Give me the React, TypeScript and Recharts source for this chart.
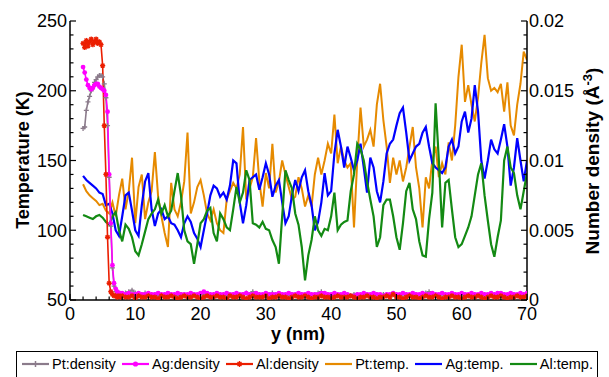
import { LineChart, Line, XAxis, YAxis } from "recharts";

const FONT = '"Liberation Sans", Arial, sans-serif';

// y positions (nm) of the temperature profiles
const tempPos = [
  2, 2.5, 3, 3.5, 4, 4.5, 5, 5.5, 6, 6.5, 7, 7.5, 8, 8.5, 9, 9.5, 10, 10.5, 11, 11.5,
  12, 12.5, 13, 13.5, 14, 14.5, 15, 15.5, 16, 16.5, 17, 17.5, 18, 18.5, 19, 19.5, 20, 20.5, 21, 21.5,
  22, 22.5, 23, 23.5, 24, 24.5, 25, 25.5, 26, 26.5, 27, 27.5, 28, 28.5, 29, 29.5, 30, 30.5, 31, 31.5,
  32, 32.5, 33, 33.5, 34, 34.5, 35, 35.5, 36, 36.5, 37, 37.5, 38, 38.5, 39, 39.5, 40, 40.5, 41, 41.5,
  42, 42.5, 43, 43.5, 44, 44.5, 45, 45.5, 46, 46.5, 47, 47.5, 48, 48.5, 49, 49.5, 50, 50.5, 51, 51.5,
  52, 52.5, 53, 53.5, 54, 54.5, 55, 55.5, 56, 56.5, 57, 57.5, 58, 58.5, 59, 59.5, 60, 60.5, 61, 61.5,
  62, 62.5, 63, 63.5, 64, 64.5, 65, 65.5, 66, 66.5, 67, 67.5, 68, 68.5, 69, 69.5, 70,
];

const ptTemp = [
  133, 128, 125, 123, 121, 118, 119, 114, 112, 120, 110, 125, 137, 115, 128, 152, 105, 131, 140, 108,
  120, 128, 156, 124, 110, 98, 88, 134, 115, 110, 120, 135, 170, 112, 120, 131, 136, 125, 112, 107,
  115, 105, 100, 98, 122, 128, 134, 130, 140, 174, 122, 130, 138, 166, 135, 117, 141, 130, 162, 127,
  135, 150, 140, 131, 122, 124, 138, 130, 117, 125, 117, 140, 152, 140, 150, 162, 155, 183, 148, 160,
  150, 145, 148, 102, 150, 188, 160, 165, 172, 160, 190, 205, 179, 160, 134, 152, 140, 150, 135, 145,
  160, 174, 145, 130, 102, 138, 130, 150, 160, 138, 148, 140, 163, 150, 175, 210, 233, 192, 204, 190,
  178, 195, 220, 240, 209, 200, 202, 199, 205, 185, 206, 175, 168, 190, 205, 228, 222,
];

const agTemp = [
  139, 136, 134, 132, 130, 127, 126, 118, 119, 112, 100, 96, 110, 125, 127, 114, 100, 96, 118, 135,
  141, 115, 103, 112, 115, 108, 110, 105, 104, 100, 95, 105, 110, 106, 98, 94, 88, 100, 112, 125,
  132, 130, 124, 127, 122, 132, 150, 148, 120, 105, 118, 136, 138, 140, 129, 138, 148, 140, 124, 132,
  136, 120, 105, 110, 125, 136, 128, 138, 143, 128, 118, 100, 106, 120, 141, 125, 128, 155, 172, 160,
  145, 160, 152, 143, 150, 162, 145, 127, 152, 145, 128, 120, 135, 155, 162, 165, 175, 184, 188, 170,
  150, 155, 160, 162, 170, 174, 160, 148, 145, 143, 141, 145, 160, 165, 155, 160, 178, 185, 170, 180,
  204, 185, 150, 137, 150, 165, 158, 155, 165, 176, 160, 132, 145, 166, 150, 135, 150,
];

const alTemp = [
  111, 110, 109, 108, 110, 111, 109, 106, 104, 110, 113, 100, 92, 104, 101, 95, 85, 82, 90, 99,
  108, 112, 115, 122, 112, 118, 110, 114, 128, 141, 125, 100, 92, 90, 76, 90, 105, 108, 114, 116,
  98, 92, 112, 108, 102, 100, 115, 131, 120, 127, 143, 136, 105, 104, 102, 106, 101, 100, 93, 88,
  76, 110, 143, 136, 130, 112, 104, 88, 64, 82, 93, 110, 100, 96, 101, 100, 110, 127, 100, 104,
  106, 107, 128, 140, 162, 158, 150, 135, 122, 110, 88, 95, 118, 122, 122, 110, 95, 86, 105, 128,
  134, 115, 108, 92, 82, 81, 108, 127, 191, 150, 102, 134, 136, 115, 95, 88, 90, 96, 102, 110,
  125, 140, 148, 125, 107, 90, 81, 95, 107, 150, 160, 145, 141, 125, 115, 128, 141,
];

// y positions (nm) of the density profiles (finer near the interface)
const densPos = [
  2, 2.25, 2.5, 2.75, 3, 3.25, 3.5, 3.75, 4, 4.25, 4.5, 4.75, 5, 5.25, 5.5, 5.75, 6, 6.25, 6.5, 6.75,
  7, 7.25, 7.5, 7.75,
  8, 8.5, 9, 9.5, 10, 10.5, 11, 11.5, 12, 12.5, 13, 13.5, 14, 14.5, 15, 15.5, 16, 16.5, 17, 17.5,
  18, 18.5, 19, 19.5, 20, 20.5, 21, 21.5, 22, 22.5, 23, 23.5, 24, 24.5, 25, 25.5, 26, 26.5, 27, 27.5,
  28, 28.5, 29, 29.5, 30, 30.5, 31, 31.5, 32, 32.5, 33, 33.5, 34, 34.5, 35, 35.5, 36, 36.5, 37, 37.5,
  38, 38.5, 39, 39.5, 40, 40.5, 41, 41.5, 42, 42.5, 43, 43.5, 44, 44.5, 45, 45.5, 46, 46.5, 47, 47.5,
  48, 48.5, 49, 49.5, 50, 50.5, 51, 51.5, 52, 52.5, 53, 53.5, 54, 54.5, 55, 55.5, 56, 56.5, 57, 57.5,
  58, 58.5, 59, 59.5, 60, 60.5, 61, 61.5, 62, 62.5, 63, 63.5, 64, 64.5, 65, 65.5, 66, 66.5, 67, 67.5,
  68, 68.5, 69, 69.5, 70,
];

const ptDens = [
  0.0123, 0.0124, 0.0136, 0.0142, 0.0146, 0.015, 0.0153, 0.0156, 0.0158, 0.016, 0.0161, 0.0161,
  0.016, 0.0155, 0.0145, 0.0125, 0.0088, 0.0053, 0.0023, 0.001, 0.0006, 0.0005, 0.0005, 0.0004,
  0.0004, 0.0005, 0.0006, 0.0007, 0.0005, 0.0004, 0.0004, 0.0005, 0.0004, 0.0004,
  0.0004, 0.0003, 0.0004, 0.0004, 0.0003, 0.0004, 0.0004, 0.0003, 0.0004, 0.0004,
  0.0003, 0.0004, 0.0004, 0.0003, 0.0004, 0.0004, 0.0003, 0.0004, 0.0004, 0.0003,
  0.0004, 0.0004, 0.0003, 0.0004, 0.0004, 0.0003, 0.0004, 0.0004, 0.0005, 0.0004,
  0.0006, 0.0004, 0.0004, 0.0003, 0.0004, 0.0004, 0.0005, 0.0004, 0.0003, 0.0004,
  0.0004, 0.0003, 0.0004, 0.0004, 0.0003, 0.0004, 0.0004, 0.0003, 0.0004, 0.0004,
  0.0005, 0.0006, 0.0004, 0.0004, 0.0003, 0.0004, 0.0004, 0.0003, 0.0004, 0.0004,
  0.0003, 0.0004, 0.0004, 0.0003, 0.0004, 0.0004, 0.0003, 0.0004, 0.0004, 0.0003,
  0.0004, 0.0004, 0.0003, 0.0004, 0.0004, 0.0003, 0.0004, 0.0004, 0.0003, 0.0004,
  0.0004, 0.0003, 0.0004, 0.0005, 0.0006, 0.0004, 0.0004, 0.0003, 0.0004, 0.0004,
  0.0003, 0.0004, 0.0004, 0.0003, 0.0004, 0.0004, 0.0003, 0.0004, 0.0004, 0.0003,
  0.0004, 0.0004, 0.0003, 0.0004, 0.0004, 0.0003, 0.0004, 0.0004, 0.0003, 0.0004,
  0.0004, 0.0003, 0.0004, 0.0004, 0.0003,
];

const agDens = [
  0.0167, 0.0163, 0.0158, 0.0154, 0.0152, 0.0151, 0.0152, 0.0154, 0.0155, 0.0155, 0.0153, 0.0152,
  0.0151, 0.015, 0.0147, 0.0135, 0.009, 0.0055, 0.0025, 0.0012, 0.0008, 0.0006, 0.0005, 0.0005,
  0.0005, 0.0004, 0.0005, 0.0004, 0.0004, 0.0005, 0.0004, 0.0004, 0.0005, 0.0004,
  0.0004, 0.0005, 0.0004, 0.0004, 0.0005, 0.0004, 0.0004, 0.0005, 0.0004, 0.0004,
  0.0004, 0.0005, 0.0004, 0.0004, 0.0005, 0.0006, 0.0005, 0.0004, 0.0004, 0.0005,
  0.0004, 0.0004, 0.0005, 0.0004, 0.0004, 0.0005, 0.0004, 0.0004, 0.0005, 0.0004,
  0.0004, 0.0005, 0.0004, 0.0004, 0.0005, 0.0004, 0.0004, 0.0004, 0.0005, 0.0004,
  0.0004, 0.0005, 0.0004, 0.0004, 0.0005, 0.0004, 0.0004, 0.0005, 0.0004, 0.0004,
  0.0004, 0.0005, 0.0005, 0.0004, 0.0004, 0.0005, 0.0004, 0.0004, 0.0005, 0.0004,
  0.0003, 0.0003, 0.0004, 0.0004, 0.0005, 0.0004, 0.0004, 0.0005, 0.0004, 0.0004,
  0.0003, 0.0004, 0.0004, 0.0005, 0.0004, 0.0004, 0.0005, 0.0004, 0.0004, 0.0005,
  0.0004, 0.0004, 0.0005, 0.0004, 0.0004, 0.0005, 0.0004, 0.0004, 0.0005, 0.0004,
  0.0004, 0.0005, 0.0004, 0.0004, 0.0005, 0.0004, 0.0004, 0.0005, 0.0004, 0.0004,
  0.0005, 0.0004, 0.0004, 0.0005, 0.0004, 0.0005, 0.0005, 0.0004, 0.0004, 0.0005,
  0.0004, 0.0004, 0.0005, 0.0004, 0.0005,
];

const alDens = [
  0.0184, 0.0181, 0.0186, 0.0182, 0.0185, 0.0187, 0.0183, 0.0185, 0.0187, 0.0184, 0.0185, 0.0183,
  0.0168, 0.0125, 0.009, 0.0045, 0.0012, 0.0006, 0.0004, 0.0003, 0.0003, 0.0002, 0.0003, 0.0002,
  0.0003, 0.0002, 0.0002, 0.0003, 0.0001, 0.0003, 0.0002, 0.0002, 0.0003, 0.0002,
  0.0002, 0.0001, 0.0003, 0.0002, 0.0002, 0.0003, 0.0002, 0.0001, 0.0002, 0.0003,
  0.0002, 0.0002, 0.0003, 0.0002, 0.0001, 0.0002, 0.0003, 0.0002, 0.0002, 0.0003,
  0.0002, 0.0002, 0.0001, 0.0003, 0.0002, 0.0002, 0.0003, 0.0002, 0.0001, 0.0002,
  0.0003, 0.0002, 0.0002, 0.0002, 0.0003, 0.0001, 0.0002, 0.0002, 0.0003, 0.0002,
  0.0002, 0.0001, 0.0002, 0.0003, 0.0002, 0.0002, 0.0003, 0.0002, 0.0001, 0.0002,
  0.0002, 0.0003, 0.0002, 0.0002, 0.0001, 0.0002, 0.0003, 0.0002, 0.0002, 0.0002,
  0.0003, 0.0002, 0.0001, 0.0002, 0.0002, 0.0003, 0.0002, 0.0002, 0.0001, 0.0002,
  0.0002, 0.0003, 0.0002, 0.0004, 0.0002, 0.0002, 0.0001, 0.0002, 0.0003, 0.0002,
  0.0002, 0.0001, 0.0002, 0.0003, 0.0002, 0.0002, 0.0003, 0.0002, 0.0001, 0.0002,
  0.0002, 0.0003, 0.0002, 0.0002, 0.0001, 0.0002, 0.0003, 0.0002, 0.0002, 0.0003,
  0.0002, 0.0001, 0.0002, 0.0003, 0.0002, 0.0002, 0.0003, 0.0002, 0.0001, 0.0002,
  0.0002, 0.0003, 0.0002, 0.0002, 0.0003,
];

const xTicks = [0, 2, 4, 6, 8, 10, 12, 14, 16, 18, 20, 22, 24, 26, 28, 30, 32, 34, 36, 38, 40,
  42, 44, 46, 48, 50, 52, 54, 56, 58, 60, 62, 64, 66, 68, 70];
const tTicks = [50, 60, 70, 80, 90, 100, 110, 120, 130, 140, 150, 160, 170, 180, 190, 200,
  210, 220, 230, 240, 250];
const dTicks = [0, 0.001, 0.002, 0.003, 0.004, 0.005, 0.006, 0.007, 0.008, 0.009, 0.01,
  0.011, 0.012, 0.013, 0.014, 0.015, 0.016, 0.017, 0.018, 0.019, 0.02];
const dTickLabels: Record<number, string> = { 0: "0", 5: "0.005", 10: "0.01", 15: "0.015", 20: "0.02" };

const COLORS = {
  ptDens: "#8B7B8B",
  agDens: "#FF00FF",
  alDens: "#EB1E00",
  ptTemp: "#E68A00",
  agTemp: "#0000FF",
  alTemp: "#138A13",
};

const zip = (pos: number[], vals: number[]) => pos.map((y, i) => ({ y, v: vals[i] }));

function BottomTick({ x, y, payload }: any) {
  const major = payload.value % 10 === 0;
  return (
    <g>
      <line x1={x} y1={y} x2={x} y2={y - (major ? 6 : 3.5)} stroke="#000" strokeWidth={1.2} />
      {major && (
        <text x={x} y={y + 20} textAnchor="middle" fontSize={18} fontFamily={FONT} fill="#000">
          {payload.value}
        </text>
      )}
    </g>
  );
}

function TopTick({ x, y, payload }: any) {
  const major = payload.value % 10 === 0;
  return <line x1={x} y1={y} x2={x} y2={y + (major ? 6 : 3.5)} stroke="#000" strokeWidth={1.2} />;
}

function LeftTick({ x, y, payload }: any) {
  const major = payload.value % 50 === 0;
  return (
    <g>
      <line x1={x} y1={y} x2={x + (major ? 6 : 3.5)} y2={y} stroke="#000" strokeWidth={1.2} />
      {major && (
        <text x={x - 3} y={y} dy="0.36em" textAnchor="end" fontSize={18} fontFamily={FONT} fill="#000">
          {payload.value}
        </text>
      )}
    </g>
  );
}

function RightTick({ x, y, payload }: any) {
  const k = Math.round(payload.value * 1000);
  const major = k % 5 === 0;
  return (
    <g>
      <line x1={x} y1={y} x2={x - (major ? 6 : 3.5)} y2={y} stroke="#000" strokeWidth={1.2} />
      {major && (
        <text x={x + 2} y={y} dy="0.36em" textAnchor="start" fontSize={18} fontFamily={FONT} fill="#000">
          {dTickLabels[k]}
        </text>
      )}
    </g>
  );
}

const plusDot = (color: string) => (p: any) => (
  <path key={p.index} d={`M${p.cx - 2.5},${p.cy}h5M${p.cx},${p.cy - 2.5}v5`} stroke={color} strokeWidth={1.3} fill="none" />
);
const circleDot = (color: string) => (p: any) => (
  <circle key={p.index} cx={p.cx} cy={p.cy} r={2.4} fill={color} stroke="none" />
);
const starDot = (color: string) => (p: any) => (
  <path
    key={p.index}
    d={`M${p.cx - 2.6},${p.cy}h5.2M${p.cx},${p.cy - 2.6}v5.2M${p.cx - 1.9},${p.cy - 1.9}l3.8,3.8M${p.cx - 1.9},${p.cy + 1.9}l3.8,-3.8`}
    stroke={color}
    strokeWidth={1.3}
    fill="none"
  />
);

const legendItems = [
  { name: "Pt:density", color: COLORS.ptDens, marker: "plus" },
  { name: "Ag:density", color: COLORS.agDens, marker: "circle" },
  { name: "Al:density", color: COLORS.alDens, marker: "star" },
  { name: "Pt:temp.", color: COLORS.ptTemp, marker: "" },
  { name: "Ag:temp.", color: COLORS.agTemp, marker: "" },
  { name: "Al:temp.", color: COLORS.alTemp, marker: "" },
];

function LegendSwatch({ color, marker }: { color: string; marker: string }) {
  return (
    <svg width={28} height={10} style={{ marginRight: 2, flex: "none" }}>
      <line x1={0} y1={5} x2={27} y2={5} stroke={color} strokeWidth={2.2} />
      {marker === "circle" && <circle cx={13.5} cy={5} r={2.6} fill={color} />}
      {marker === "plus" && <path d="M10.5,5h6M13.5,2v6" stroke={color} strokeWidth={1.5} />}
      {marker === "star" && <path d="M10.5,5h6M13.5,2v6M11.5,3l4,4M11.5,7l4,-4" stroke={color} strokeWidth={1.3} />}
    </svg>
  );
}

export default function App() {
  return (
    <div style={{ position: "absolute", left: 0, top: 0, width: 609, height: 377, background: "#fff", overflow: "hidden" }}>
      <LineChart width={609} height={377} margin={{ top: 21, right: 0, bottom: 0, left: 0 }}>
        <XAxis
          xAxisId="b"
          type="number"
          dataKey="y"
          domain={[0, 70]}
          ticks={xTicks}
          interval={0}
          height={77}
          tickSize={0}
          tickMargin={0}
          axisLine={{ stroke: "#000", strokeWidth: 1.5 }}
          tick={(p: any) => <BottomTick {...p} />}
          allowDataOverflow
        />
        <XAxis
          xAxisId="t"
          orientation="top"
          type="number"
          dataKey="y"
          domain={[0, 70]}
          ticks={xTicks}
          interval={0}
          height={0}
          tickSize={0}
          tickMargin={0}
          axisLine={{ stroke: "#000", strokeWidth: 1.5 }}
          tick={(p: any) => <TopTick {...p} />}
          allowDataOverflow
        />
        <YAxis
          yAxisId="T"
          type="number"
          domain={[50, 250]}
          ticks={tTicks}
          interval={0}
          width={70}
          tickSize={0}
          tickMargin={0}
          axisLine={{ stroke: "#000", strokeWidth: 1.5 }}
          tick={(p: any) => <LeftTick {...p} />}
          allowDataOverflow
        />
        <YAxis
          yAxisId="d"
          orientation="right"
          type="number"
          domain={[0, 0.02]}
          ticks={dTicks}
          interval={0}
          width={82}
          tickSize={0}
          tickMargin={0}
          axisLine={{ stroke: "#000", strokeWidth: 1.5 }}
          tick={(p: any) => <RightTick {...p} />}
          allowDataOverflow
        />
        <Line xAxisId="b" yAxisId="T" data={zip(tempPos, ptTemp)} dataKey="v" type="linear"
          stroke={COLORS.ptTemp} strokeWidth={2} dot={false} activeDot={false} isAnimationActive={false} />
        <Line xAxisId="b" yAxisId="T" data={zip(tempPos, agTemp)} dataKey="v" type="linear"
          stroke={COLORS.agTemp} strokeWidth={2.2} dot={false} activeDot={false} isAnimationActive={false} />
        <Line xAxisId="b" yAxisId="T" data={zip(tempPos, alTemp)} dataKey="v" type="linear"
          stroke={COLORS.alTemp} strokeWidth={2.2} dot={false} activeDot={false} isAnimationActive={false} />
        <Line xAxisId="b" yAxisId="d" data={zip(densPos, ptDens)} dataKey="v" type="linear"
          stroke={COLORS.ptDens} strokeWidth={1.6} dot={plusDot(COLORS.ptDens)} activeDot={false} isAnimationActive={false} />
        <Line xAxisId="b" yAxisId="d" data={zip(densPos, agDens)} dataKey="v" type="linear"
          stroke={COLORS.agDens} strokeWidth={1.6} dot={circleDot(COLORS.agDens)} activeDot={false} isAnimationActive={false} />
        <Line xAxisId="b" yAxisId="d" data={zip(densPos, alDens)} dataKey="v" type="linear"
          stroke={COLORS.alDens} strokeWidth={1.6} dot={starDot(COLORS.alDens)} activeDot={false} isAnimationActive={false} />
      </LineChart>

      <svg width={609} height={377} style={{ position: "absolute", left: 0, top: 0, pointerEvents: "none" }}>
        <text x={0} y={0} transform="translate(29,160) rotate(-90)" textAnchor="middle" fontSize={18}
          fontWeight="bold" fontFamily={FONT} fill="#000">
          Temperature (K)
        </text>
        <text x={0} y={0} transform="translate(599,161) rotate(-90)" textAnchor="middle" fontSize={19}
          fontWeight="bold" fontFamily={FONT} fill="#000">
          Number density (Å
          <tspan dy={-7} fontSize={13}>-3</tspan>
          <tspan dy={7}>)</tspan>
        </text>
        <text x={298} y={340} textAnchor="middle" fontSize={18} fontWeight="bold" fontFamily={FONT} fill="#000">
          y (nm)
        </text>
      </svg>

      <div
        style={{
          position: "absolute",
          left: 16,
          top: 351,
          width: 582,
          height: 30,
          border: "1.5px solid #000",
          boxSizing: "border-box",
          display: "flex",
          justifyContent: "space-between",
          alignItems: "flex-start",
          padding: "4px 4px 0 5px",
          fontFamily: FONT,
          fontSize: 14.5,
          color: "#000",
        }}
      >
        {legendItems.map((it) => (
          <div key={it.name} style={{ display: "flex", alignItems: "center", whiteSpace: "nowrap" }}>
            <LegendSwatch color={it.color} marker={it.marker} />
            <span>{it.name}</span>
          </div>
        ))}
      </div>
    </div>
  );
}
